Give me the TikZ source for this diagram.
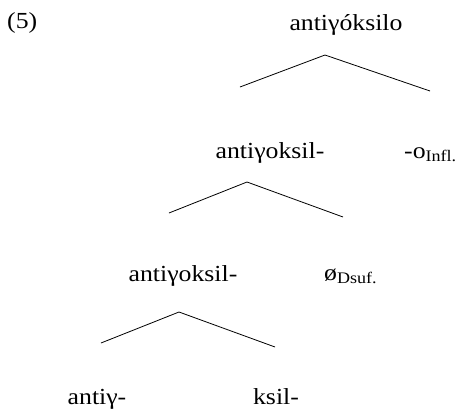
\documentclass[tikz,border=0pt]{standalone}
\usepackage{fontspec}
\setmainfont[FakeStretch=1.12]{Liberation Serif}
\begin{document}
\begin{tikzpicture}[x=1pt,y=-1pt,
  lbl/.style={inner sep=0pt,anchor=base,font=\fontsize{23}{27}\selectfont},
  branch/.style={line width=0.8pt}]
\useasboundingbox (0,0) rectangle (459,410);
\node[lbl,anchor=base west] (num) at (7,28) {(5)};
\node[lbl] (n1) at (346,30) {antiγóksilo};
\node[lbl] (n2) at (270,158) {antiγoksil-};
\node[lbl,anchor=base west] (n2r) at (404,158) {-o\textsubscript{Infl.}};
\node[lbl] (n3) at (183,281) {antiγoksil-};
\node[lbl,anchor=base west] (n3r) at (324,280) {ø\textsubscript{Dsuf.}};
\node[lbl] (n4l) at (97,404) {antiγ-};
\node[lbl] (n4r) at (276,404) {ksil-};
\coordinate (t1) at (325,55);
\coordinate (t1l) at (240,87);
\coordinate (t1r) at (430,91);
\coordinate (t2) at (247,182);
\coordinate (t2l) at (169,213);
\coordinate (t2r) at (343,217);
\coordinate (t3) at (179,312);
\coordinate (t3l) at (101,343);
\coordinate (t3r) at (275,347);
\draw[branch] (t1l) -- (t1) -- (t1r);
\draw[branch] (t2l) -- (t2) -- (t2r);
\draw[branch] (t3l) -- (t3) -- (t3r);
\end{tikzpicture}
\end{document}
